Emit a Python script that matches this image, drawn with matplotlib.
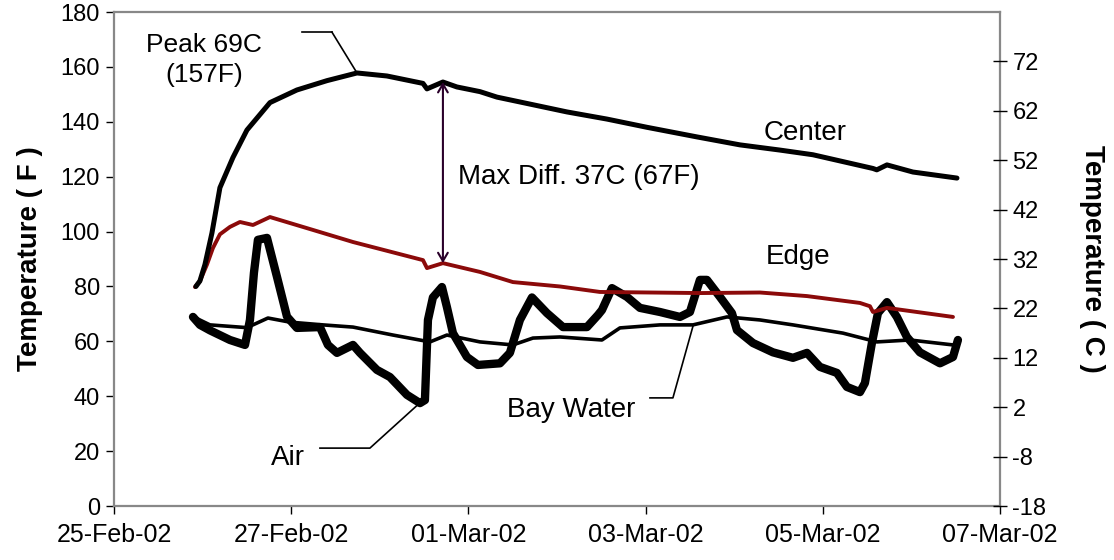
import matplotlib
matplotlib.use("Agg")
import matplotlib.pyplot as plt
import matplotlib.dates as mdates
import numpy as np
import datetime as dt

plt.rcParams['font.family'] = ['Liberation Sans', 'DejaVu Sans']
plt.rcParams['axes.unicode_minus'] = False

START = dt.datetime(2002, 2, 25)

# times are days after 25-Feb-02 00:00, temperatures in F
center_t = [0.925, 0.97, 1.027, 1.106, 1.196, 1.343, 1.501, 1.761, 2.065, 2.404, 2.743,
            3.081, 3.488, 3.533, 3.713, 3.871, 4.131, 4.323, 4.616, 5.113, 5.564, 6.016,
            6.580, 7.065, 7.517, 7.889, 8.567, 8.610, 8.725, 9.018, 9.515]
center_f = [80, 82, 88, 99.5, 116, 127, 137, 147, 151.6, 155, 157.8,
            156.7, 154, 152, 154.5, 152.7, 151, 149, 147, 143.6, 141, 138,
            134.5, 131.6, 129.7, 128, 123, 122.5, 124.3, 121.7, 119.5]

edge_t = [0.914, 0.971, 1.05, 1.117, 1.196, 1.309, 1.422, 1.569, 1.761, 2.246, 2.698,
          3.488, 3.533, 3.713, 4.131, 4.503, 5.034, 5.485, 6.614, 7.291, 7.822, 8.420,
          8.533, 8.567, 8.725, 9.470]
edge_f = [79.8, 82, 88, 94, 99, 101.7, 103.5, 102.4, 105.3, 100.6, 96.2,
          89.6, 86.7, 88.5, 85.3, 81.6, 80, 78, 77.6, 77.8, 76.5, 74,
          72.8, 70.7, 72.2, 68.9]

air_t = [0.892, 0.971, 1.084, 1.309, 1.479, 1.535, 1.580, 1.625, 1.727, 1.840, 1.953,
         2.065, 2.325, 2.415, 2.517, 2.698, 2.777, 2.968, 3.115, 3.307, 3.454, 3.510,
         3.544, 3.600, 3.702, 3.758, 3.826, 3.984, 4.108, 4.357, 4.469, 4.582, 4.718,
         4.887, 5.068, 5.339, 5.463, 5.508, 5.621, 5.790, 5.937, 6.163, 6.388, 6.501,
         6.614, 6.693, 6.840, 6.975, 7.032, 7.212, 7.438, 7.664, 7.822, 7.968, 8.160,
         8.273, 8.420, 8.476, 8.555, 8.623, 8.725, 8.837, 8.950, 9.097, 9.323, 9.470, 9.526]
air_f = [68.9, 66, 64, 60.5, 58.7, 67.8, 85, 97, 97.7, 83.5, 69,
         64.9, 65.2, 58.7, 55.8, 58.7, 55.8, 49.6, 47, 40.5, 37.5, 38.6,
         67.8, 76, 79.8, 72.5, 63, 54.3, 51.4, 52, 55.8, 67.8, 76,
         70.3, 65.2, 65.2, 69.6, 71.4, 79.4, 76.2, 72.2, 70.7, 68.9, 70.7,
         82.4, 82.4, 76.2, 70.3, 64.1, 59.4, 56, 54, 55.8, 50.7, 48.5,
         43.4, 41.5, 44.8, 59.4, 70.3, 74.3, 68.9, 61.6, 56, 52, 54.3, 60.5]

bay_t = [0.892, 1.084, 1.501, 1.738, 1.986, 2.359, 2.698, 3.149, 3.567, 3.758, 4.131,
         4.503, 4.729, 5.034, 5.508, 5.711, 6.163, 6.535, 6.919, 7.291, 7.664, 8.228,
         8.612, 8.984, 9.470]
bay_f = [69, 66, 65, 68.5, 67, 66, 65.2, 62.3, 59.8, 62.3, 59.8,
         58.7, 61.2, 61.6, 60.5, 64.9, 66, 66, 68.9, 67.8, 66, 63,
         59.8, 60.5, 58.7]

left_ticks = list(range(0, 181, 20))
right_ticks = list(range(-18, 73, 10))


def to_dates(days):
    return [START + dt.timedelta(days=d) for d in days]


def day(d):
    return mdates.date2num(START + dt.timedelta(days=d))


fig = plt.figure(figsize=(11.14, 5.6), dpi=100)
ax = fig.add_axes([0.1023, 0.0964, 0.7953, 0.8821])

ax.plot(to_dates(bay_t), bay_f, color='black', lw=2.6, solid_capstyle='round')
ax.plot(to_dates(air_t), air_f, color='black', lw=6.0, solid_joinstyle='round',
        solid_capstyle='round')
ax.plot(to_dates(edge_t), edge_f, color='#8B0A0A', lw=2.8, solid_capstyle='round')
ax.plot(to_dates(center_t), center_f, color='black', lw=3.6, solid_capstyle='round')

ax.set_xlim(START, START + dt.timedelta(days=10))
ax.set_ylim(0, 180)
ax.set_yticks(left_ticks)
ax.xaxis.set_major_locator(mdates.DayLocator(interval=2))
ax.xaxis.set_major_formatter(mdates.DateFormatter('%d-%b-%y'))

for s in ax.spines.values():
    s.set_color('#888888')
    s.set_linewidth(1.6)
ax.tick_params(axis='both', direction='out', length=6, width=1, color='black',
               labelsize=17, pad=4)
ax.tick_params(axis='x', labelsize=18, pad=6)
ax.set_ylabel('Temperature ( F )', fontsize=20, fontweight='bold', labelpad=13)

ax2 = ax.twinx()
ax2.set_ylim(-18, 82)
ax2.set_yticks(right_ticks)
for s in ax2.spines.values():
    s.set_visible(False)
ax2.tick_params(axis='y', direction='inout', length=10, width=1, color='black',
                labelsize=17, pad=4)
ax2.set_ylabel('Temperature ( C )', fontsize=20, fontweight='bold', rotation=-90,
               labelpad=42)

# annotations
ipk = int(np.argmax(center_f))
ax.plot([day(2.122), day(2.46)], [172.7, 172.7], color='black', lw=1.2)
ax.plot([day(2.46), day(center_t[ipk])], [172.7, center_f[ipk]], color='black', lw=1.2)
ax.text(day(1.02), 162.5, 'Peak 69C\n(157F)', fontsize=19, ha='center', va='center',
        linespacing=1.3)

ic = center_t.index(3.713)
ie = edge_t.index(3.713)
ax.annotate('', xy=(day(3.713), edge_f[ie]), xytext=(day(3.713), center_f[ic]),
            arrowprops=dict(arrowstyle='<->,head_length=0.6,head_width=0.35',
                            color='#2a002a', lw=1.5, shrinkA=0, shrinkB=0))
ax.text(day(5.25), 120, 'Max Diff. 37C (67F)', fontsize=20, ha='center', va='center')
ax.text(day(7.8), 136, 'Center', fontsize=20, ha='center', va='center')
ax.text(day(7.72), 90.7, 'Edge', fontsize=20, ha='center', va='center')

ax.text(day(5.16), 35, 'Bay Water', fontsize=20, ha='center', va='center')
ax.plot([day(6.05), day(6.309), day(6.535)], [39.4, 39.4, 65.5], color='black', lw=1.2)

ax.text(day(1.96), 17.5, 'Air', fontsize=20, ha='center', va='center')
ax.plot([day(2.325), day(2.889), day(3.44)], [21.1, 21.1, 37.2], color='black', lw=1.2)

fig.savefig('out.png', dpi=100)
